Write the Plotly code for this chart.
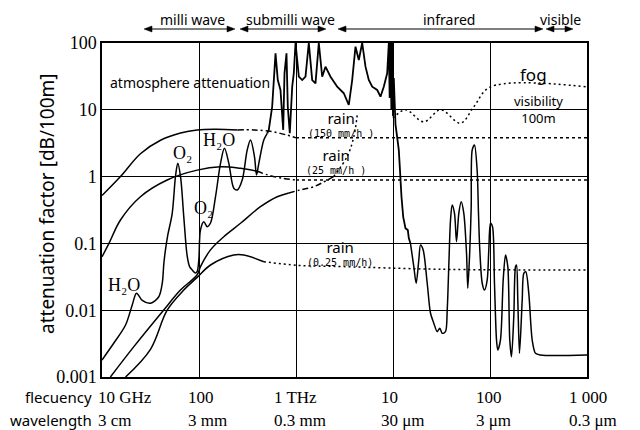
import math
import plotly.graph_objects as go

# ---------------- data (frequency in GHz, attenuation in dB/100m) ----------------
atm_f = [10.0, 13.2, 17.5, 20.5, 22.7, 26, 31.6, 38.5, 41.8, 43.4, 45.1, 47.5, 52.9, 57.2, 60.4,
         64.5, 69.7, 75.5, 80, 85.1, 92.0, 95.8, 99.5, 103.6, 112, 121.5, 131.4, 148, 166.6, 183,
         203, 228.5, 247.7, 279, 314, 340, 373, 392, 413.6, 465.6, 505,
         524, 568, 590, 615, 649, 692, 738, 761, 798, 823, 863, 914, 949, 989, 1069, 1159, 1253,
         1355, 1469, 1589, 1718, 1862, 2014, 2269, 2660, 3111, 3501, 3796, 4105, 4439, 4813, 5206,
         5629, 6105, 6873, 7430, 8035, 8710, 9054, 9240, 9420, 9620, 9815, 10000, 10190, 10400,
         10610, 11040, 11480, 11750, 11940, 12230, 12740, 13460, 14210, 14550, 15140,
         16390, 17340, 18450, 19210, 20480, 22530, 24360, 26340, 28560, 30380, 32140, 34760,
         36220, 37580, 39170, 40740, 43050, 45160, 47690, 50450, 53700, 57280, 59040, 61910,
         64000, 65540, 69180, 73790, 76000, 78500, 83110, 87700, 93550, 97190, 101150, 106100,
         111200, 116700, 120300, 128200, 136800, 144500, 152600, 159900, 166600, 175900,
         183200, 187600, 193500, 201400, 214800, 223100, 233900, 251200, 272300, 294400,
         331600, 1000000]
atm_v = [0.0018, 0.0032, 0.0060, 0.012, 0.018, 0.014, 0.0127, 0.0159, 0.0253, 0.050, 0.080, 0.13,
         0.28, 1.0, 1.58, 1.0, 0.25, 0.065, 0.045, 0.040, 0.036, 0.038, 0.056, 0.159, 0.211,
         0.178, 0.202, 0.50, 1.58, 2.65, 1.58, 0.668, 0.63, 0.889, 2.5, 3.53, 1.99, 1.06, 1.58,
         3.53, 4.45,
         5.0, 11.1, 24.9, 70, 27.9, 19.8, 5.0, 35.2, 70, 11.1, 4.45, 22.2, 35.2, 100, 31.3, 27.9,
         31.3, 100, 27.9, 24.9, 100, 31.3, 44.2, 31.3, 22.2, 17.7, 11.8, 27.9, 88, 55.7, 100,
         44.2, 27.9, 22.2, 19.8, 15.7, 22.2, 35.2, 100, 15, 100, 10, 100, 8, 30, 7,
         6.0, 3.9, 2.5, 1.4, 0.75, 0.50, 0.25, 0.168, 0.159, 0.12, 0.10,
         0.0448, 0.0253, 0.0564, 0.0946, 0.0796, 0.0253, 0.0090, 0.0064, 0.00477, 0.00536,
         0.00451, 0.00477, 0.0101, 0.0448, 0.224, 0.376, 0.282, 0.106, 0.282, 0.421, 0.282,
         0.0711, 0.0213, 0.0796, 0.35, 2.5, 2.97, 1.2, 0.3, 0.0796, 0.0253, 0.020, 0.0283,
         0.0796, 0.20, 0.178, 0.0253, 0.00358, 0.00254, 0.0036, 0.0283, 0.067, 0.0448, 0.0036,
         0.00201, 0.0080, 0.0448, 0.0475, 0.0142, 0.00226, 0.0142, 0.0357, 0.0377, 0.0179,
         0.00358, 0.00226, 0.00213, 0.00213]

rain150_f = [10, 15.5, 24.9, 40.1, 64.5, 96, 150, 250]
rain150_v = [0.52, 1.0, 2.2, 3.5, 4.5, 5.0, 5.1, 5.0]
rain150_dash_f = [250, 365, 570, 800, 1000]
rain150_dash_v = [5.0, 5.0, 4.7, 4.2, 3.8]
rain150_dot_f = [1000, 1000000]
rain150_dot_v = [3.8, 3.8]

rain25_f = [10, 11.8, 15.5, 24.9, 47, 95.8, 166.6, 268, 398]
rain25_v = [0.063, 0.1, 0.224, 0.5, 0.89, 1.25, 1.4, 1.33, 1.2]
rain25_dash_f = [398, 510, 700, 1000]
rain25_dash_v = [1.2, 1.06, 0.95, 0.89]
rain25_dot_f = [1000, 1000000]
rain25_dot_v = [0.89, 0.89]

rain025_f = [17.5, 31.6, 47, 69.7, 95.8, 131.4, 228.5, 290, 465.6]
rain025_v = [0.001, 0.0026, 0.01, 0.020, 0.031, 0.0475, 0.067, 0.067, 0.0532]
rain025_dot_f = [465.6, 1028, 3000, 30000, 1000000]
rain025_dot_v = [0.0532, 0.047, 0.045, 0.041, 0.040]

fog_f = [12.2, 21.1, 43.1, 64.4, 95.8, 103.6, 131.4, 180, 268, 430, 640, 843]
fog_v = [0.001, 0.0028, 0.01, 0.02, 0.034, 0.045, 0.08, 0.126, 0.2, 0.354, 0.5, 0.57]
fog_dashdot_f = [843, 1100, 1500, 2440]
fog_dashdot_v = [0.57, 0.63, 0.7, 1.0]
fog_dot_f = [2440, 3370, 3945, 4300]
fog_dot_v = [1.0, 2.0, 3.96, 9.0]
fog_ir_f = [10000, 13460, 20770, 30900, 49660, 68080, 101150, 1000000]
fog_ir_v = [7.5, 10.0, 6.6, 10.0, 6.3, 11.1, 22, 22]

y_ticks = [0.001, 0.01, 0.1, 1, 10, 100]
y_ticktext = ["0.001", "0.01", "0.1", "1", "10", "100"]
x_ticks = [10, 100, 1000, 10000, 100000, 1000000]
freq_labels = ["10 GHz", "100", "1 THz", "10", "100", "1 000"]
wave_labels = ["3 cm", "3 mm", "0.3 mm", "30 μm", "3 μm", "0.3 μm"]
bands = ["milli wave", "submilli wave", "infrared", "visible"]

# ---------------- layout constants ----------------
W, H = 640, 430
L, R, T, B = 102, 53, 43, 53
PW, PH = W - L - R, H - T - B


def px(x):
    return (x - L) / PW


def py(y):
    return (H - B - y) / PH


fig = go.Figure()


def add(f, v, dash="solid", shape="spline", width=1.5, smoothing=1.0):
    fig.add_trace(go.Scatter(
        x=f, y=v, mode="lines", hoverinfo="skip", showlegend=False,
        line=dict(color="black", width=width, dash=dash, shape=shape, smoothing=smoothing)))


# atmosphere attenuation, split in smooth / spiky parts
i1 = atm_f.index(505)
i2 = atm_f.index(15140)
add(atm_f[:i1 + 1], atm_v[:i1 + 1], shape="spline", smoothing=0.9)
add(atm_f[i1:i2 + 1], atm_v[i1:i2 + 1], shape="linear", width=1.8)
add(atm_f[i2:], atm_v[i2:], shape="spline", smoothing=0.8)

add(rain150_f, rain150_v)
add(rain150_dash_f, rain150_dash_v, dash="6px,3px,2px,3px")
add(rain150_dot_f, rain150_dot_v, dash="3px,3px", shape="linear")
add(rain25_f, rain25_v)
add(rain25_dash_f, rain25_dash_v, dash="6px,3px,2px,3px")
add(rain25_dot_f, rain25_dot_v, dash="3px,3px", shape="linear")
add(rain025_f, rain025_v)
add(rain025_dot_f, rain025_dot_v, dash="2px,3px")
add(fog_f, fog_v)
add(fog_dashdot_f, fog_dashdot_v, dash="6px,3px,2px,3px")
add(fog_dot_f, fog_dot_v, dash="2px,3px")
add(fog_ir_f, fog_ir_v, dash="2px,3px")

SERIF = "Liberation Serif"
SANS = "Noto Sans"
MONO = "DejaVu Sans Mono"
ann = []
shapes = []

# x tick labels (two rows)
shifts = [-6, -13, -24, -14, -16, -20]
for xv, fl, wl, s in zip(x_ticks, freq_labels, wave_labels, shifts):
    lx = math.log10(xv)
    ann.append(dict(x=lx, xref="x", y=0, yref="paper", yshift=-20, xshift=s, text=fl,
                    xanchor="left", yanchor="middle", showarrow=False,
                    font=dict(family=SERIF, size=17, color="black")))
    ann.append(dict(x=lx, xref="x", y=0, yref="paper", yshift=-43, xshift=s, text=wl,
                    xanchor="left", yanchor="middle", showarrow=False,
                    font=dict(family=SERIF, size=17, color="black")))

ann.append(dict(x=0, xref="paper", y=0, yref="paper", yshift=-20, xshift=-8, text="flecuency",
                xanchor="right", yanchor="middle", showarrow=False,
                font=dict(family=SANS, size=15, color="black")))
ann.append(dict(x=0, xref="paper", y=0, yref="paper", yshift=-43, xshift=-8, text="wavelength",
                xanchor="right", yanchor="middle", showarrow=False,
                font=dict(family=SANS, size=15, color="black")))

# y title
ann.append(dict(x=0, xref="paper", y=py(204), yref="paper", xshift=-55,
                text="attenuation factor [dB/100m]", textangle=-90, showarrow=False,
                xanchor="center", yanchor="middle",
                font=dict(family=SANS, size=19, color="black")))

# band labels and double arrows
band_text_x = [192, 290, 449, 560]
for t, bx in zip(bands, band_text_x):
    ann.append(dict(x=px(bx), xref="paper", y=py(19), yref="paper", text=t, showarrow=False,
                    xanchor="center", yanchor="middle",
                    font=dict(family=SANS, size=14, color="black")))

AY = 29
hl, hw = 8, 3
for a, b in [(144, 235), (240, 326), (338, 543), (546, 573)]:
    shapes.append(dict(type="line", xref="paper", yref="paper", x0=px(a + 2), x1=px(b - 2),
                       y0=py(AY), y1=py(AY), line=dict(color="black", width=1.1)))
    for tip, back in [(a, a + hl), (b, b - hl)]:
        path = "M {} {} L {} {} L {} {} Z".format(px(tip), py(AY), px(back), py(AY - hw),
                                                  px(back), py(AY + hw))
        shapes.append(dict(type="path", xref="paper", yref="paper", path=path,
                           fillcolor="black", line=dict(color="black", width=0.5)))


def label(x, y, t, size=14, fam=SANS, anchor="center"):
    ann.append(dict(x=px(x), xref="paper", y=py(y), yref="paper", text=t, showarrow=False,
                    xanchor=anchor, yanchor="middle",
                    font=dict(family=fam, size=size, color="black")))


def rain_label(x, y, rate):
    t = ("<span style='font-family:{}; font-size:15px'>rain</span><br>{}").format(SANS, rate)
    ann.append(dict(x=px(x), xref="paper", y=py(y), yref="paper", text=t, showarrow=False,
                    xanchor="center", yanchor="middle", align="center",
                    font=dict(family=MONO, size=10, color="black")))


label(108, 83, "atmosphere attenuation", 14, SANS, "left")
label(124, 285, "H₂O", 18, SERIF)
label(219, 140, "H₂O", 18, SERIF)
label(182, 153, "O₂", 18, SERIF)
label(203, 208, "O₂", 18, SERIF)
rain_label(341, 124, "(150 mm/h )")
rain_label(336, 160, "(25 mm/h )")
rain_label(340, 252, "(0.25 mm/h)")
label(533, 74, "fog", 17)
ann.append(dict(x=px(538), xref="paper", y=py(109), yref="paper", text="visibility<br>100m",
                showarrow=False, xanchor="center", yanchor="middle", align="center",
                font=dict(family=SANS, size=13, color="black")))

fig.update_layout(
    width=W, height=H, autosize=False,
    margin=dict(l=L, r=R, t=T, b=B),
    paper_bgcolor="white", plot_bgcolor="white",
    showlegend=False, hovermode=False,
    annotations=ann, shapes=shapes,
    xaxis=dict(type="log", range=[1, 6], tickvals=x_ticks, showticklabels=False,
               showgrid=True, gridcolor="black", gridwidth=1, zeroline=False,
               showline=True, mirror=True, linecolor="black", linewidth=1.5, ticks=""),
    yaxis=dict(type="log", range=[-3, 2], tickvals=y_ticks, ticktext=y_ticktext,
               showgrid=True, gridcolor="black", gridwidth=1, zeroline=False,
               showline=True, mirror=True, linecolor="black", linewidth=1.5, ticks="",
               tickfont=dict(family=SERIF, size=18, color="black")),
)

fig.write_html("out.html", config={"displayModeBar": False},
               post_script="document.body.style.margin='0px';document.body.style.padding='0px';")
